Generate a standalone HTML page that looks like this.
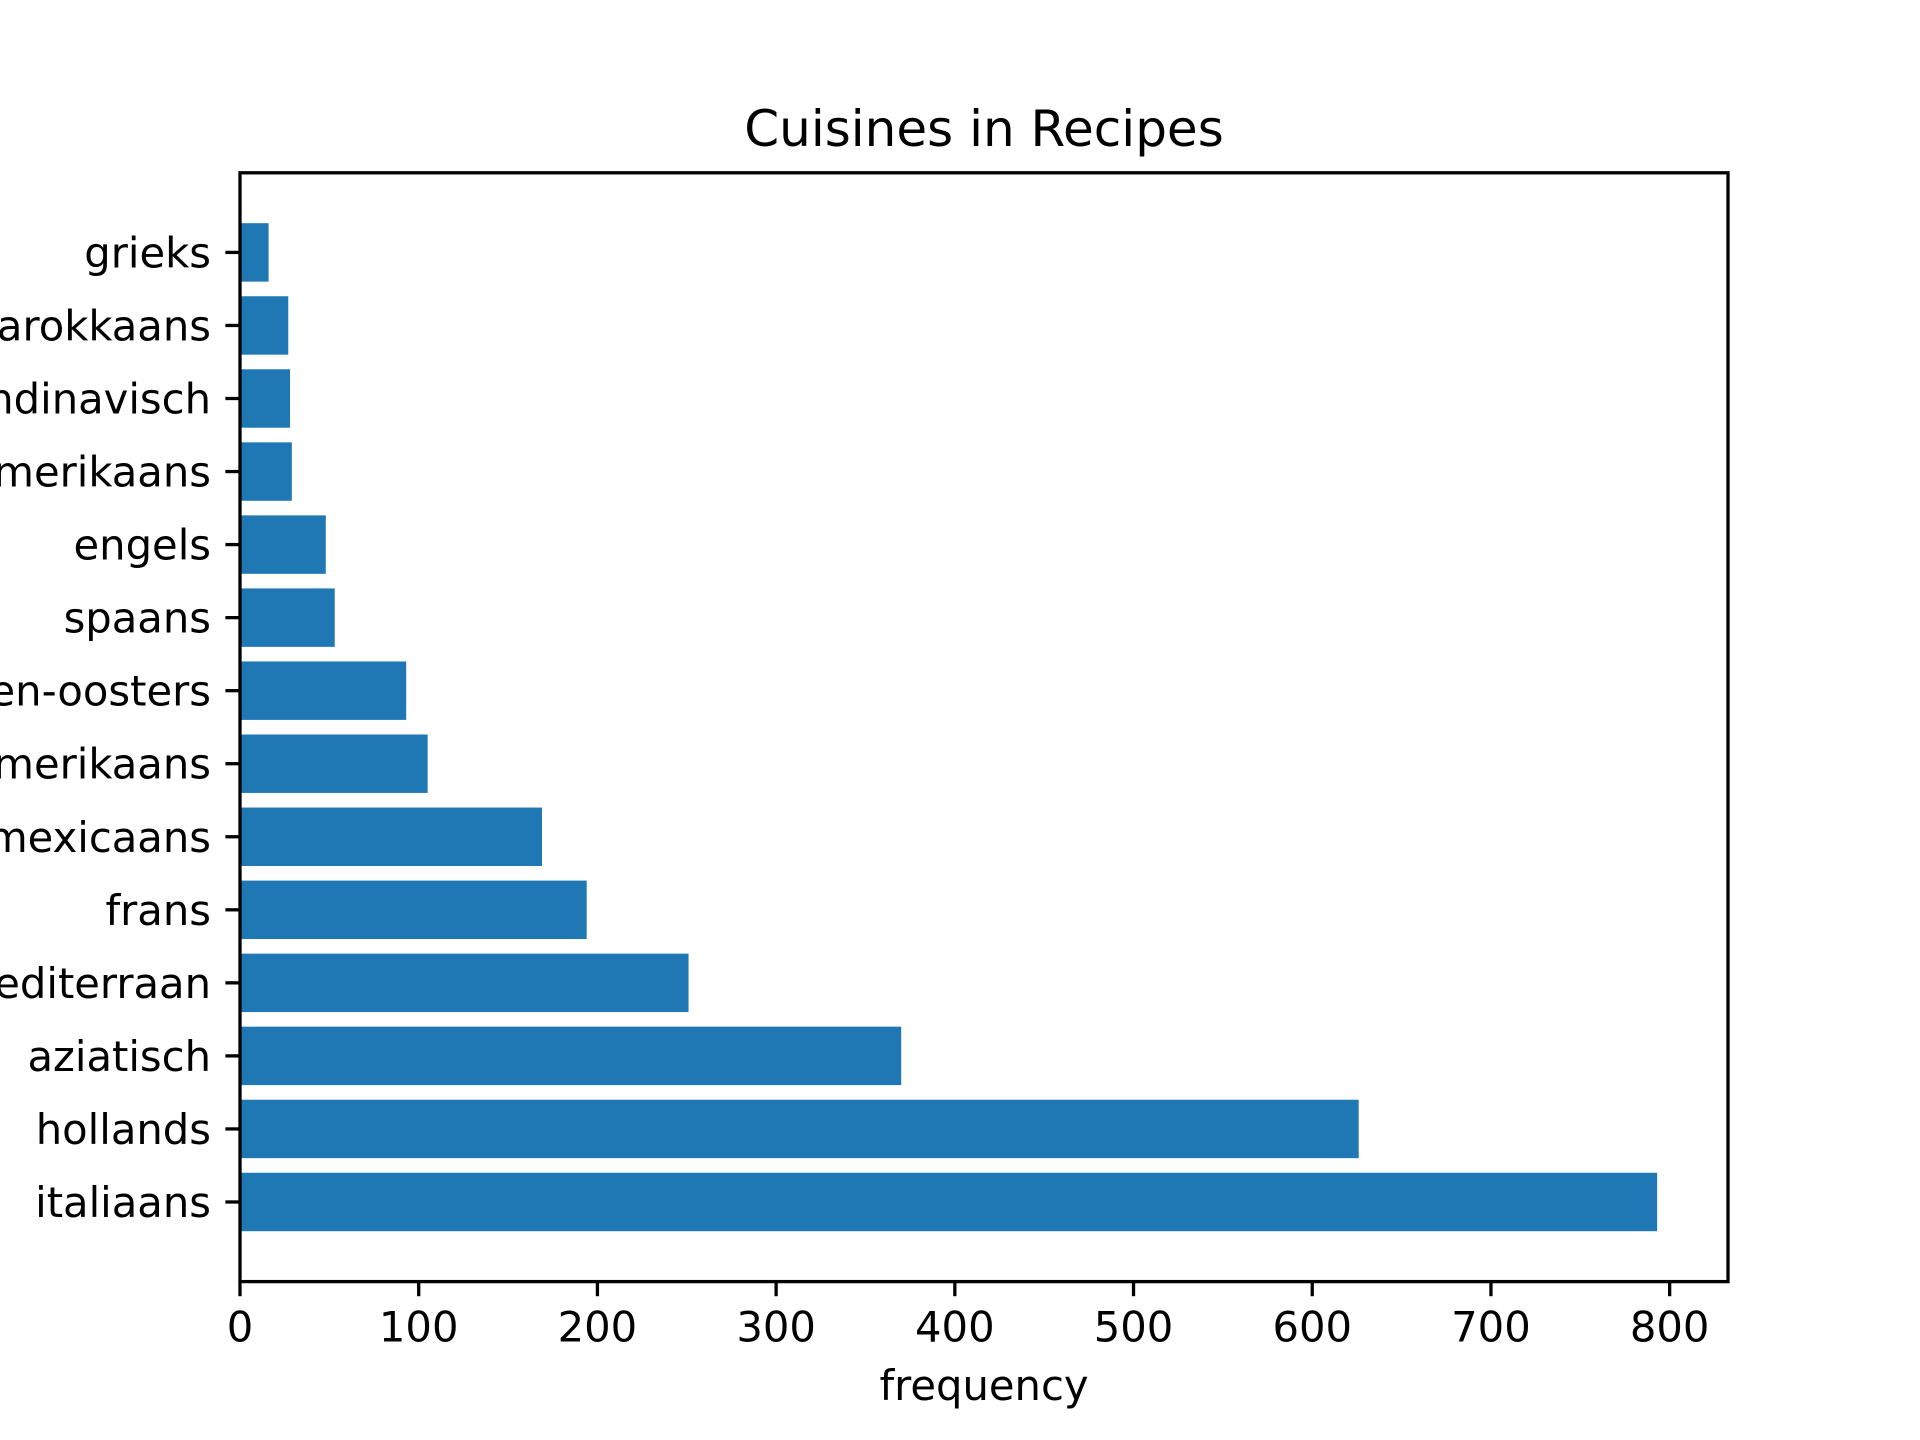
<!DOCTYPE html>
<html><head><meta charset="utf-8"><style>
html,body{margin:0;padding:0;background:#fff;}
svg{display:block;font-family:"DejaVu Sans","Liberation Sans",sans-serif;}
</style></head><body>
<svg id="chart" width="1920" height="1440" viewBox="0 0 1920 1440" xmlns="http://www.w3.org/2000/svg">
<rect width="1920" height="1440" fill="#fff"/>
<g id="bars"></g>
<g id="axes"></g>
</svg>
<script>
const categories = ["italiaans","hollands","aziatisch","mediterraan","frans","mexicaans","zuid-amerikaans","midden-oosters","spaans","engels","amerikaans","scandinavisch","marokkaans","grieks"];
const values = [793,626,370,251,194,169,105,93,53,48,29,28,27,16];
const xTicks = [0,100,200,300,400,500,600,700,800];

const NS="http://www.w3.org/2000/svg";
const L=240,R=1728,T=172.8,B=1281.6;
const xMax=Math.max(...values)*1.05;
const yLo=-0.4-0.05*(categories.length-0.2), yHi=categories.length-0.6+0.05*(categories.length-0.2);
function xs(v){return L+(v/xMax)*(R-L);}
function ys(v){return T+(yHi-v)/(yHi-yLo)*(B-T);}
function mk(tag,attrs,parent){const e=document.createElementNS(NS,tag);for(const k in attrs)e.setAttribute(k,attrs[k]);parent.appendChild(e);return e;}
const bars=document.getElementById('bars'), axes=document.getElementById('axes');
categories.forEach((c,i)=>{
  const r=mk('rect',{x:xs(0),y:ys(i+0.4),width:xs(values[i])-xs(0),height:ys(i-0.4)-ys(i+0.4),fill:'#1f77b4'},bars);
  
  
  const t=mk('line',{x1:L-14.6,x2:L,y1:ys(i),y2:ys(i),stroke:'#000','stroke-width':3.3},axes);
  
  
  const lb=mk('text',{x:L-29,y:ys(i)+15,'text-anchor':'end','font-size':41.7,fill:'#000'},axes);
  lb.textContent=c;
  
  
});
xTicks.forEach(v=>{
  const t=mk('line',{x1:xs(v),x2:xs(v),y1:B,y2:B+14.6,stroke:'#000','stroke-width':3.3},axes);
  
  
  const lb=mk('text',{x:xs(v),y:B+60,'text-anchor':'middle','font-size':41.7,fill:'#000'},axes);
  lb.textContent=v;
  
  
});
const fr=mk('rect',{x:L,y:T,width:R-L,height:B-T,fill:'none',stroke:'#000','stroke-width':3.3,'stroke-linecap':'square'},axes);


const xl=mk('text',{x:(L+R)/2,y:1400,'text-anchor':'middle','font-size':41.7,fill:'#000'},axes);
xl.textContent='frequency';


const ti=mk('text',{x:(L+R)/2,y:146,'text-anchor':'middle','font-size':50,fill:'#000'},axes);
ti.textContent='Cuisines in Recipes';


</script>
</body></html>
